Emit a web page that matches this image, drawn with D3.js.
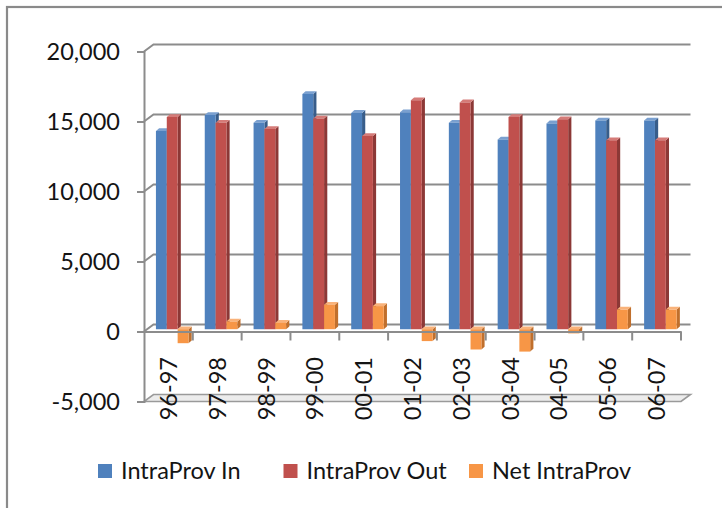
<!DOCTYPE html>
<html>
<head>
<meta charset="utf-8">
<script src="https://cdn.jsdelivr.net/npm/d3@7"></script>
<style>
  html, body { margin: 0; padding: 0; background: #fff; }
  svg { display: block; }
  text { font-family: Lato, "Open Sans", sans-serif; fill: #141414; }
</style>
</head>
<body>
<svg id="chart" width="722" height="508"></svg>
<script>
// Intra-provincial migration by fiscal year
const categories = ["96-97","97-98","98-99","99-00","00-01","01-02","02-03","03-04","04-05","05-06","06-07"];
const seriesNames = ["IntraProv In", "IntraProv Out", "Net IntraProv"];
const intraIn  = [14150, 15300, 14750, 16800, 15450, 15500, 14750, 13550, 14700, 14900, 14900];
const intraOut = [15150, 14750, 14300, 15050, 13800, 16350, 16200, 15150, 15000, 13500, 13500];
const netIntra = [-1000,   550,   450,  1750,  1650,  -850, -1450, -1600,  -300,  1400,  1400];
const yTicks = [-5000, 0, 5000, 10000, 15000, 20000];
const yTickLabels = ["-5,000", "0", "5,000", "10,000", "15,000", "20,000"];

const seriesValues = [intraIn, intraOut, netIntra];
const palette = [
  { front: "#4F81BD", side: "#385d8a", top: "#7aa0d0" },
  { front: "#C0504D", side: "#8c3836", top: "#d57b78" },
  { front: "#F79646", side: "#c06f2c", top: "#f9b27a" }
];

const svg = d3.select("#chart");

// outer chart frame
svg.append("rect")
  .attr("x", 7).attr("y", 7).attr("width", 800).attr("height", 600)
  .attr("fill", "none").attr("stroke", "#8a8a8a").attr("stroke-width", 2.2);

// front plane of the 3-D box and depth offset to the back wall
const x0 = 144, x1 = 681;
const depth = { dx: 9.5, dy: -7 };
const barShift = { dx: 3.8, dy: -2.3 };   // bars sit in the middle of the depth
const barDepth = { dx: 3.2, dy: -2.8 };

const x = d3.scaleBand().domain(categories).range([x0, x1]).paddingInner(0).paddingOuter(0);
const xs = d3.scaleBand().domain(d3.range(seriesNames.length))
  .range([0, x.bandwidth()]).paddingInner(0).paddingOuter(0.75);
const y = d3.scaleLinear().domain([-5000, 20000]).range([401.5, 51.5]);

const gridColor = "#8c8c8c";

// floor slab at the axis minimum
const yMin = y(-5000);
svg.append("path")
  .attr("d", `M${x0},${yMin} L${x1},${yMin} L${x1 + depth.dx},${yMin + depth.dy} L${x0 + depth.dx},${yMin + depth.dy} Z`)
  .attr("fill", "#ececec").attr("stroke", "#9a9a9a").attr("stroke-width", 1.6);

// back-wall gridlines with their side-wall connectors
svg.append("g").selectAll("path")
  .data(yTicks.filter(v => v !== -5000))
  .join("path")
  .attr("d", v => `M${x0},${y(v)} L${x0 + depth.dx},${y(v) + depth.dy} L${x1 + depth.dx},${y(v) + depth.dy}`)
  .attr("fill", "none").attr("stroke", gridColor).attr("stroke-width", 2);

// value axis
const fmt = (d, i) => yTickLabels[yTicks.indexOf(d)];
const yAxis = svg.append("g")
  .attr("transform", `translate(${x0},0)`)
  .call(d3.axisLeft(y).tickValues(yTicks).tickFormat(fmt).tickSize(7).tickPadding(17));
yAxis.select(".domain").attr("stroke", gridColor).attr("stroke-width", 2);
yAxis.selectAll(".tick line").attr("stroke", gridColor).attr("stroke-width", 2);
yAxis.selectAll(".tick text")
  .style("font-family", "Lato, 'Open Sans', sans-serif")
  .style("font-size", "23.5px").attr("fill", "#141414");

// 3-D columns
function barFaces(cx, w, vTop, vBot) {
  const xl = cx + barShift.dx, xr = xl + w;
  const yt = y(vTop) + barShift.dy, yb = y(vBot) + barShift.dy;
  return {
    front: `M${xl},${yt} L${xr},${yt} L${xr},${yb} L${xl},${yb} Z`,
    side: `M${xr},${yt} L${xr + barDepth.dx},${yt + barDepth.dy} L${xr + barDepth.dx},${yb + barDepth.dy} L${xr},${yb} Z`,
    top: `M${xl},${yt} L${xl + barDepth.dx},${yt + barDepth.dy} L${xr + barDepth.dx},${yt + barDepth.dy} L${xr},${yt} Z`
  };
}

const bars = [];
categories.forEach((c, i) => {
  seriesValues.forEach((vals, s) => {
    const v = vals[i];
    bars.push({ c, s, v });
  });
});

const barG = svg.append("g");
bars.forEach(b => {
  const cx = x(b.c) + xs(b.s);
  const w = xs.bandwidth();
  const f = barFaces(cx, w, Math.max(b.v, 0), Math.min(b.v, 0));
  const col = palette[b.s];
  const g = barG.append("g");
  g.append("path").attr("d", f.side).attr("fill", col.side);
  g.append("path").attr("d", f.top).attr("fill", col.top);
  g.append("path").attr("d", f.front).attr("fill", col.front);
});

// category axis at zero
const y0 = y(0);
const xAxis = svg.append("g").attr("transform", `translate(0,${y0})`)
  .call(d3.axisBottom(x).tickSize(0).tickFormat(""));
xAxis.select(".domain").attr("stroke", gridColor).attr("stroke-width", 2);
svg.append("g").selectAll("line")
  .data(categories)
  .join("line")
  .attr("x1", c => x(c) + x.bandwidth()).attr("x2", c => x(c) + x.bandwidth())
  .attr("y1", y0).attr("y2", y0 + 9)
  .attr("stroke", gridColor).attr("stroke-width", 2);

// rotated category labels
svg.append("g").selectAll("text")
  .data(categories)
  .join("text")
  .attr("transform", c => `translate(${x(c) + x.bandwidth() / 2},357) rotate(-90)`)
  .attr("text-anchor", "end")
  .attr("dy", "0.36em")
  .style("font-size", "23.5px")
  .text(c => c);

// legend
const legend = svg.append("g").attr("transform", "translate(98,464)");
const item = legend.selectAll("g").data(seriesNames).join("g")
  .attr("transform", (d, i) => `translate(${i * 185.5},0)`);
item.append("rect").attr("width", 14).attr("height", 14)
  .attr("fill", (d, i) => palette[i].front);
item.append("text").attr("x", 23).attr("y", 7).attr("dy", "0.36em")
  .style("font-size", "23.5px")
  .text(d => d);
</script>
</body>
</html>
